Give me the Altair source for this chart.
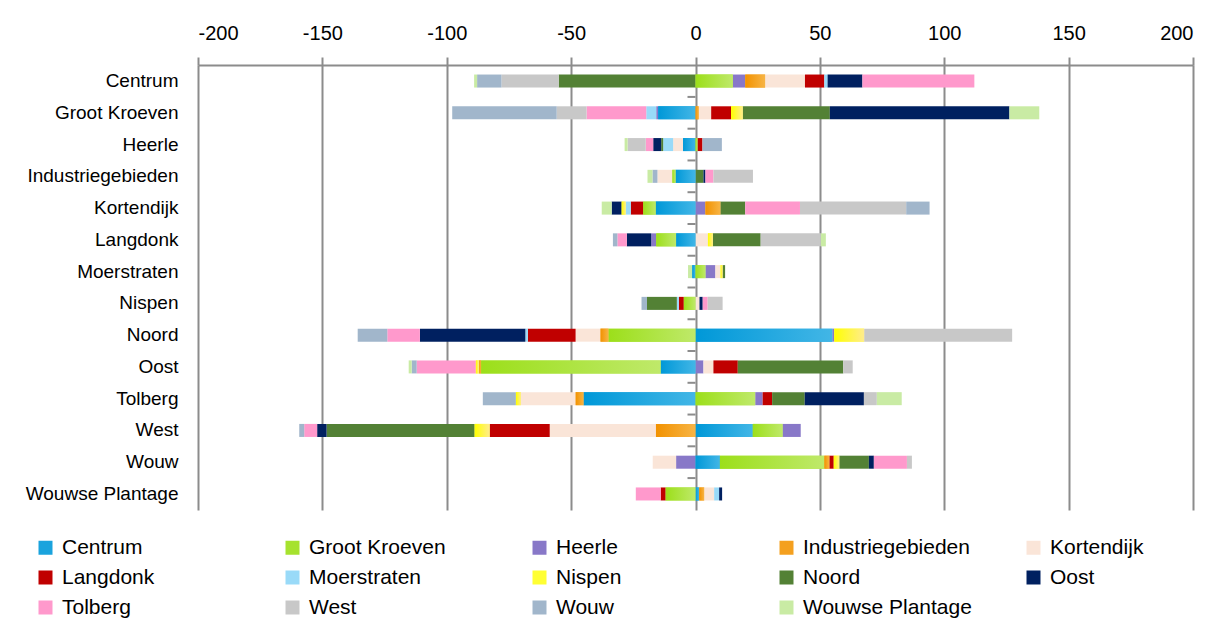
import altair as alt
import pandas as pd

areas = ["Centrum", "Groot Kroeven", "Heerle", "Industriegebieden", "Kortendijk",
         "Langdonk", "Moerstraten", "Nispen", "Noord", "Oost", "Tolberg", "West",
         "Wouw", "Wouwse Plantage"]
categories = list(areas)
colors = ["#1aa3dd", "#a6e22e", "#8878c8", "#f4a01f", "#fae5d8", "#c00000", "#99daf8",
          "#ffff33", "#538135", "#002060", "#ff99cc", "#c8c8c8", "#a1b6cb", "#c9eba4"]

# values per row, in the order of `categories`
centrum =           [0, 15, 5, 8, 16, 7.8, 1.3, 0, -55, 14, 45, -23, -9.8, -1.2]
groot_kroeven =     [-15, 0, -0.8, 1.3, 5, 8, -4, 4.7, 35, 72.2, -24, -12, -42, 12]
heerle =            [-5, 0.8, 0, 0, -4, 2, -4, 0, -0.8, -3.2, -3, -7.3, 7.8, -1.2]
industriegebieden = [-8, -1.3, 0, 0, -6, 0, 0, 0, 3.2, 0.8, 3.2, 15.9, -2, -2]
kortendijk =        [-16, -5, 4, 6, 0, -5, -2.1, -1.6, 10, -4, 22, 42.7, 9.4, -4]
langdonk =          [-7.8, -8, -2, 0, 5, 0, 0, 2, 19.2, -9.8, -3.8, 24.2, -1.8, 2]
moerstraten =       [-1.3, 4, 4, 0, 2.1, 0, 0, 0.8, 1, 0, 0, 0, 0, -1.7]
nispen =            [0, -4.7, 0, 0, 1.6, -2, -0.8, 0, -12, 1.3, 2, 6, -2.2, 0]
noord =             [55, -35, 0.8, -3.2, -10, -19.2, -1, 12, 0, -42.4, -13.1, 59.5, -11.9, 0]
oost =              [-14, -72.2, 3.2, -0.8, 4, 9.8, 0, -1.3, 42.4, 0, -23.8, 3.8, -2, -1.2]
tolberg =           [-45, 24, 3, -3.2, -22, 3.8, 0, -2, 13.1, 23.8, 0, 5.2, -13.3, 10]
west =              [23, 12, 7.3, -15.9, -42.7, -24.2, 0, -6, -59.5, -3.8, -5.2, 0, -2, 0]
wouw =              [9.8, 42, -7.8, 2, -9.4, 1.8, 0, 2.2, 11.9, 2, 13.3, 2, 0, 0]
wouwse_plantage =   [1.5, -12, 0, 2, 4, -2, 2, 0, 0, 1.2, -10, 0, 0, 0]

rows = [centrum, groot_kroeven, heerle, industriegebieden, kortendijk, langdonk,
        moerstraten, nispen, noord, oost, tolberg, west, wouw, wouwse_plantage]

x_ticks = [-200, -150, -100, -50, 0, 50, 100, 150, 200]

gradients = {
    "Centrum": ("#0098d8", "#42b6e6"),
    "Groot Kroeven": ("#9cdf1a", "#bfe96a"),
    "Industriegebieden": ("#f29200", "#f7b445"),
    "Nispen": ("#ffff00", "#ffec8c"),
}

records = []
for area, row in zip(areas, rows):
    for i, (cat, v) in enumerate(zip(categories, row)):
        if v != 0:
            records.append({"area": area, "cat": cat, "idx": i, "value": v})
df = pd.DataFrame(records)

FONT = "'Liberation Sans', Arial, sans-serif"
GRID = "#8c8c8c"

x_scale = alt.Scale(domain=[-200, 200], nice=False, zero=False)
y_scale = alt.Scale(domain=areas, paddingInner=0.59, paddingOuter=0.3)

x_axis = alt.Axis(orient="top", values=x_ticks, labelExpr="datum.value + ''",
                  labelFont=FONT, labelFontSize=20, labelColor="black",
                  labelPadding=14, tickSize=8, tickWidth=2, tickColor=GRID,
                  domain=True, domainColor=GRID, domainWidth=2,
                  grid=True, gridColor=GRID, gridWidth=2,
                  minExtent=57, maxExtent=57)
y_axis = alt.Axis(orient="left", labelFont=FONT, labelFontSize=19,
                  labelColor="black", labelPadding=20, ticks=False, tickSize=0,
                  domain=False, grid=False, minExtent=190, maxExtent=190)

base = alt.Chart(df).transform_stack(
    stack="value", groupby=["area"], as_=["x0", "x1"],
    sort=[alt.SortField("idx", order="ascending")], offset="zero"
)

bars = base.mark_bar().encode(
    x=alt.X("x0:Q", scale=x_scale, title=None, axis=x_axis),
    x2="x1:Q",
    y=alt.Y("area:N", scale=y_scale, title=None, axis=y_axis),
    color=alt.Color("cat:N", scale=alt.Scale(domain=categories, range=colors),
                    legend=alt.Legend(orient="none", legendX=-163, legendY=472,
                                      direction="horizontal", columns=5, title=None,
                                      symbolType="square", symbolSize=196,
                                      symbolStrokeWidth=0, labelFont=FONT,
                                      labelFontSize=21, labelColor="black",
                                      labelOffset=6, gridAlign="all",
                                      columnPadding=51, rowPadding=8, padding=0,
                                      labelLimit=300)),
)

grad_layers = []
for cat, (c1, c2) in gradients.items():
    grad_layers.append(
        base.transform_filter(alt.datum.cat == cat).mark_bar(
            fill=alt.Gradient(gradient="linear",
                              stops=[alt.GradientStop(offset=0, color=c1),
                                     alt.GradientStop(offset=1, color=c2)],
                              x1=0, x2=1, y1=0, y2=0)
        ).encode(
            x=alt.X("x0:Q", scale=x_scale, title=None, axis=x_axis),
            x2="x1:Q",
            y=alt.Y("area:N", scale=y_scale, title=None, axis=y_axis),
        )
    )

inner = alt.layer(bars, *grad_layers)

# category axis ticks on the zero line: one short rule on each boundary between rows
boundaries = areas[1:]
tick_layer = alt.Chart(pd.DataFrame({"b": boundaries})).mark_rule(
    color=GRID, strokeWidth=2, xOffset=-8
).encode(
    y=alt.Y("b:N",
            scale=alt.Scale(type="band", domain=boundaries, paddingInner=0,
                            paddingOuter=0.505),
            axis=None),
    x=alt.datum(0),
    x2=alt.datum(0),
)

chart = alt.layer(inner, tick_layer).resolve_scale(y="independent").properties(
    width=995, height=445,
    padding={"left": 0, "top": 0, "right": 5, "bottom": 0},
).configure_view(strokeWidth=0, stroke=None)

chart.save("out.html", embed_options={"renderer": "svg", "actions": False})
